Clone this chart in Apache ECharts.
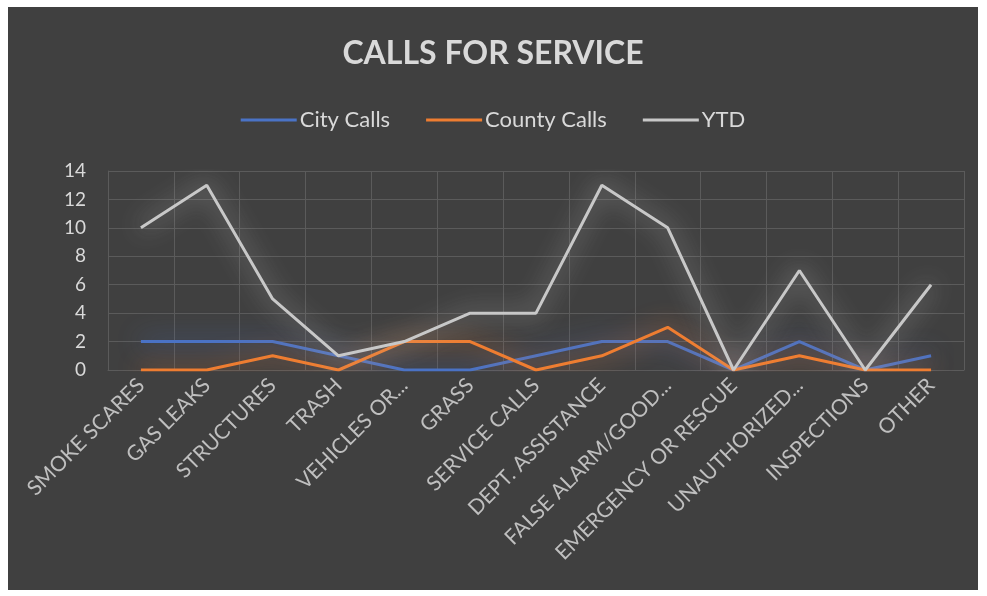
<!DOCTYPE html>
<html>
<head>
	<meta charset="UTF-8">
	<title>Calls for Service</title>
	<style>
		* {
			margin: 0;
			padding: 0;
		}

		body {
			background: #ffffff;
			width: 987px;
			height: 596px;
			position: relative;
		}

		#charts {
			position: absolute;
			left: 8px;
			top: 7px;
			width: 970px;
			height: 583px;
			background: #404040;
		}
	</style>
</head>
<body>
	<div id="charts"></div>
</body>
<script src="https://cdn.jsdelivr.net/npm/echarts@6/dist/echarts.min.js"></script>
<script>
	// 类别与数据
	var categories = ['SMOKE SCARES', 'GAS LEAKS', 'STRUCTURES', 'TRASH', 'VEHICLES OR...', 'GRASS',
		'SERVICE CALLS', 'DEPT. ASSISTANCE', 'FALSE ALARM/GOOD...', 'EMERGENCY OR RESCUE',
		'UNAUTHORIZED...', 'INSPECTIONS', 'OTHER'];
	var cityCalls = [2, 2, 2, 1, 0, 0, 1, 2, 2, 0, 2, 0, 1];
	var countyCalls = [0, 0, 1, 0, 2, 2, 0, 1, 3, 0, 1, 0, 0];
	var ytd = [10, 13, 5, 1, 2, 4, 4, 13, 10, 0, 7, 0, 6];

	var font = 'Lato, "Open Sans", sans-serif';
	var gridColor = '#5b5b5b';

	function lineSeries(name, data, color) {
		return {
			name: name,
			type: 'line',
			data: data,
			showSymbol: false,
			symbol: 'none',
			lineStyle: {
				color: color,
				width: 3,
				shadowColor: color,
				shadowBlur: 24
			},
			itemStyle: { color: color }
		};
	}

	var mycharts = echarts.init(document.getElementById('charts'));
	var option = {
		backgroundColor: '#404040',
		animation: false,
		title: {
			text: 'CALLS FOR SERVICE',
			left: 'center',
			top: 26,
			textStyle: {
				color: '#d9d9d9',
				fontFamily: font,
				fontSize: 32,
				fontWeight: 'bold'
			}
		},
		legend: {
			top: 97,
			left: 'center',
			icon: 'rect',
			itemWidth: 56,
			itemHeight: 3,
			itemGap: 36,
			textStyle: {
				color: '#d9d9d9',
				fontFamily: font,
				fontSize: 22,
				padding: [0, 0, 0, -2]
			},
			data: ['City Calls', 'County Calls', 'YTD']
		},
		grid: {
			left: 100,
			right: 14,
			top: 164,
			bottom: 220
		},
		xAxis: {
			type: 'category',
			data: categories,
			boundaryGap: true,
			axisLine: { show: true, lineStyle: { color: gridColor } },
			axisTick: { show: false },
			splitLine: { show: true, lineStyle: { color: gridColor } },
			axisLabel: {
				rotate: 45,
				interval: 0,
				margin: 12,
				color: '#bfbfbf',
				fontFamily: font,
				fontSize: 21
			}
		},
		yAxis: {
			type: 'value',
			min: 0,
			max: 14,
			interval: 2,
			axisLine: { show: true, lineStyle: { color: gridColor } },
			axisTick: { show: false },
			splitLine: { show: true, lineStyle: { color: gridColor } },
			axisLabel: {
				margin: 22,
				color: '#d9d9d9',
				fontFamily: font,
				fontSize: 19
			}
		},
		series: [
			lineSeries('City Calls', cityCalls, '#4a73c6'),
			lineSeries('County Calls', countyCalls, '#ee7d31'),
			lineSeries('YTD', ytd, '#c8c8c8')
		]
	};
	mycharts.setOption(option);
</script>
</html>
